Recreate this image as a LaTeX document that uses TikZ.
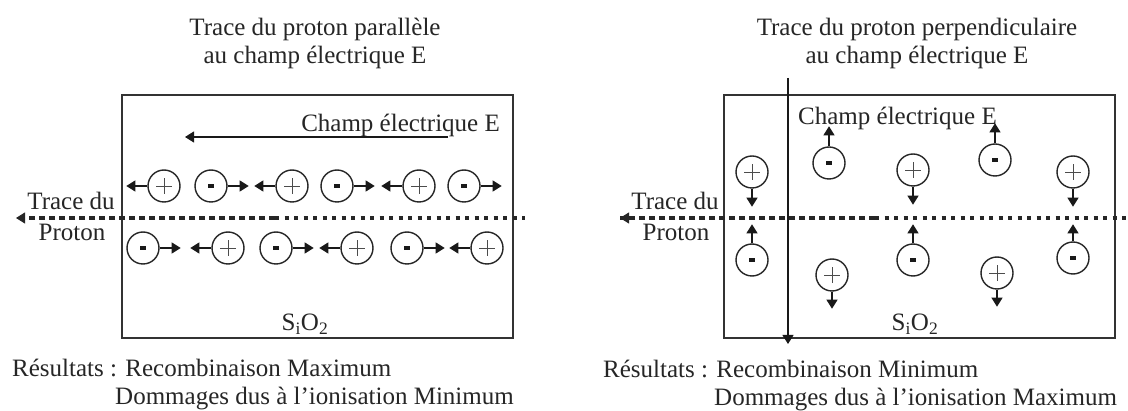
\documentclass[tikz,border=0pt]{standalone}
\usepackage{fontspec}
\setmainfont{Liberation Serif}
\usetikzlibrary{arrows.meta}
\tikzset{
  txt/.style={font=\fontsize{25}{28}\selectfont, inner sep=0pt, text=black!85},
  frame/.style={draw=black!80, line width=1.6pt},
  chg/.style={circle, draw=black!85, line width=1.4pt, minimum size=32pt, inner sep=0pt},
  poschg/.style={chg, path picture={
      \draw[line width=0.8pt, black!70]
        ([xshift=-8pt]path picture bounding box.center) -- ([xshift=8pt]path picture bounding box.center)
        ([yshift=-8pt]path picture bounding box.center) -- ([yshift=8pt]path picture bounding box.center);}},
  negchg/.style={chg, path picture={
      \fill[black!90] ([xshift=-3pt,yshift=-1.8pt]path picture bounding box.center)
        rectangle ([xshift=3pt,yshift=1.8pt]path picture bounding box.center);}},
  arr/.style={line width=1.1pt, black!90, -{Triangle[length=9pt,width=11pt]}},
  dashpart/.style={line width=3.2pt, black!85, dash pattern=on 6pt off 4pt},
  dotpart/.style={line width=3.2pt, black!85, dash pattern=on 4pt off 5.5pt},
  tip/.style={line width=1pt, black!85, -{Triangle[length=9pt,width=11pt]}}
}
\begin{document}
\begin{tikzpicture}[x=1pt,y=-1pt]
\useasboundingbox[fill=white] (0,0) rectangle (1128,411);

% ================= LEFT PANEL =================
\node[txt, align=center] (titleL) at (315,43) {Trace du proton parallèle\\au champ électrique E};
\node[frame, draw, rectangle, minimum width=391pt, minimum height=243pt, inner sep=0pt, anchor=north west] (boxL) at (121,94) {};
\node[txt, anchor=base east] (fieldL) at (500,132) {Champ électrique E};
\coordinate (eL1) at (448,137);
\coordinate (eL2) at (185,137);
\draw[arr] (eL1) -- (eL2);

% top row
\node[poschg] (a1) at (164,186) {};
\node[negchg] (a2) at (211,186) {};
\node[poschg] (a3) at (292,186) {};
\node[negchg] (a4) at (337,186) {};
\node[poschg] (a5) at (419,186) {};
\node[negchg] (a6) at (464,186) {};
\draw[arr] (a1.west) -- ++(-21,0) coordinate (ta1);
\draw[arr] (a2.east) -- ++(21,0) coordinate (ta2);
\draw[arr] (a3.west) -- ++(-21,0) coordinate (ta3);
\draw[arr] (a4.east) -- ++(21,0) coordinate (ta4);
\draw[arr] (a5.west) -- ++(-21,0) coordinate (ta5);
\draw[arr] (a6.east) -- ++(21,0) coordinate (ta6);

% bottom row
\node[negchg] (b1) at (143,248) {};
\node[poschg] (b2) at (228,248) {};
\node[negchg] (b3) at (276,248) {};
\node[poschg] (b4) at (357,248) {};
\node[negchg] (b5) at (407,248) {};
\node[poschg] (b6) at (487,248) {};
\draw[arr] (b1.east) -- ++(21,0) coordinate (tb1);
\draw[arr] (b2.west) -- ++(-21,0) coordinate (tb2);
\draw[arr] (b3.east) -- ++(21,0) coordinate (tb3);
\draw[arr] (b4.west) -- ++(-21,0) coordinate (tb4);
\draw[arr] (b5.east) -- ++(21,0) coordinate (tb5);
\draw[arr] (b6.west) -- ++(-21,0) coordinate (tb6);

% proton track
\coordinate (pL0) at (16,218);
\coordinate (pLm) at (275,218);
\coordinate (pL1) at (525,218);
\draw[dashpart] (pLm) -- (pL0);
\draw[tip] ([xshift=6pt]pL0) -- (pL0);
\draw[dotpart] (pLm) -- (pL1);
\node[txt, anchor=base] (traceL) at (71,210) {Trace du};
\node[txt, anchor=base] (protonL) at (72,241) {Proton};

\node[txt, anchor=base] (sioL) at (305,331) {S\textsubscript{i}O\textsubscript{2}};
\node[txt, anchor=base west] (resL) at (12,377) {Résultats : Recombinaison Maximum};
\node[txt, anchor=base west] (domL) at (115,405) {Dommages dus à l’ionisation Minimum};

% ================= RIGHT PANEL =================
\node[txt, align=center] (titleR) at (917,43) {Trace du proton perpendiculaire\\au champ électrique E};
\node[frame, draw, rectangle, minimum width=391pt, minimum height=243pt, inner sep=0pt, anchor=north west] (boxR) at (723,94) {};
\node[txt, anchor=base west] (fieldR) at (798,125) {Champ électrique E};

% vertical proton track
\coordinate (vR0) at (788,78);
\coordinate (vR1) at (788,344);
\draw[arr] (vR0) -- (vR1);

% top row
\node[poschg] (c1) at (752,172) {};
\node[negchg] (c2) at (829,163) {};
\node[poschg] (c3) at (913,170) {};
\node[negchg] (c4) at (995,160) {};
\node[poschg] (c5) at (1073,172) {};
\draw[arr] (c1.south) -- ++(0,18) coordinate (tc1);
\draw[arr] (c2.north) -- ++(0,-20) coordinate (tc2);
\draw[arr] (c3.south) -- ++(0,18) coordinate (tc3);
\draw[arr] (c4.north) -- ++(0,-20) coordinate (tc4);
\draw[arr] (c5.south) -- ++(0,18) coordinate (tc5);

% bottom row
\node[negchg] (d1) at (752,260) {};
\node[poschg] (d2) at (832,275) {};
\node[negchg] (d3) at (913,260) {};
\node[poschg] (d4) at (997,273) {};
\node[negchg] (d5) at (1073,258) {};
\draw[arr] (d1.north) -- ++(0,-19) coordinate (td1);
\draw[arr] (d2.south) -- ++(0,17) coordinate (td2);
\draw[arr] (d3.north) -- ++(0,-19) coordinate (td3);
\draw[arr] (d4.south) -- ++(0,17) coordinate (td4);
\draw[arr] (d5.north) -- ++(0,-17) coordinate (td5);

% horizontal dotted track
\coordinate (pR0) at (620,218);
\coordinate (pRm) at (875,218);
\coordinate (pR1) at (1128,218);
\draw[dashpart] (pRm) -- (pR0);
\draw[tip] ([xshift=6pt]pR0) -- (pR0);
\draw[dotpart] (pRm) -- (pR1);
\node[txt, anchor=base] (traceR) at (675,210) {Trace du};
\node[txt, anchor=base] (protonR) at (676,241) {Proton};

\node[txt, anchor=base] (sioR) at (915,331) {S\textsubscript{i}O\textsubscript{2}};
\node[txt, anchor=base west] (resR) at (603,378) {Résultats : Recombinaison Minimum};
\node[txt, anchor=base west] (domR) at (714,406) {Dommages dus à l’ionisation Maximum};
\end{tikzpicture}
\end{document}
